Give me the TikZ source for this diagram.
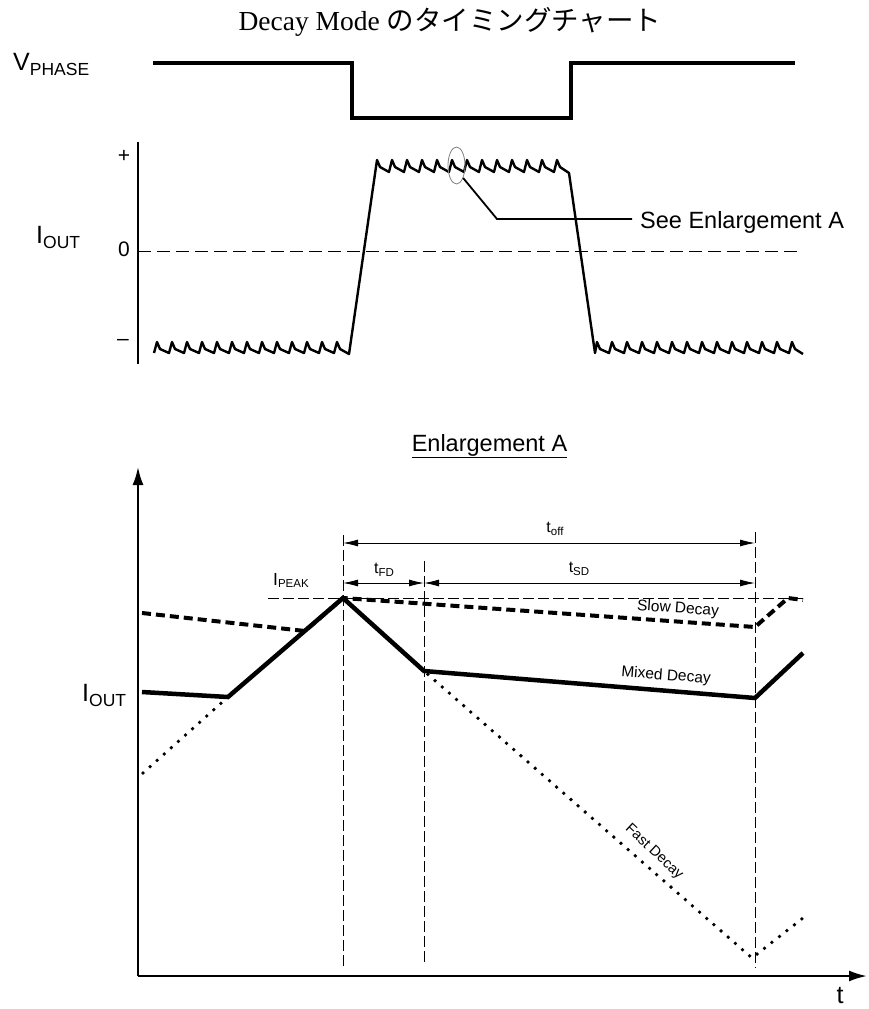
\documentclass[tikz,border=0pt]{standalone}
\usepackage{fontspec}
\setmainfont{Liberation Serif}
\setsansfont{Liberation Sans}
\newfontfamily\jpfont{Noto Sans CJK JP}
\usetikzlibrary{arrows.meta,shapes.geometric}
\newcommand{\fsz}[1]{\fontsize{#1}{#1}\selectfont}
\begin{document}
\begin{tikzpicture}[x=1pt,y=-1pt,
  lbl/.style={font=\sffamily, inner sep=0pt},
  wave/.style={line width=2.4pt, line join=round},
  thinaxis/.style={line width=1.3pt},
  zeroline/.style={line width=0.9pt, dash pattern=on 13pt off 6pt},
  guide/.style={line width=0.9pt, dash pattern=on 11pt off 4pt},
  dimarrow/.style={line width=0.9pt, {Latex[length=15pt,width=7pt]}-{Latex[length=15pt,width=7pt]}},
  bigaxis/.style={line width=2.2pt, -{Latex[length=18pt,width=11pt]}},
  mixed/.style={line width=4.5pt, line join=miter},
  slow/.style={line width=4pt, dash pattern=on 9pt off 5pt},
  fast/.style={line width=3.8pt, line cap=round, dash pattern=on 0pt off 9.5pt}]
\useasboundingbox (0,0) rectangle (868,1009);

% title
\node[inner sep=0pt, anchor=base] (title) at (450,30) {\fsz{27.5}Decay Mode {\jpfont のタイミングチャート}};

% V_PHASE
\node[lbl, anchor=base west] (vphase) at (13,70) {\fsz{25}V\raisebox{-5pt}{\fsz{17.5}PHASE}};
\draw[line width=3.3pt, line join=miter] (153,63) -- (352,63) -- (352,118) -- (571,118) -- (571,63) -- (795,63);

% I_OUT upper chart
\node[lbl, anchor=base west] (iout1) at (36,243) {\fsz{25}I\raisebox{-5pt}{\fsz{17.5}OUT}};
\node[lbl] (plus) at (124,156) {\fsz{21}+};
\node[lbl] (zero) at (124,249) {\fsz{21}0};
\node[lbl] (minus) at (123,342) {\fsz{21}–};
\coordinate (ax1top) at (138,142);
\coordinate (ax1bot) at (138,364);
\draw[thinaxis] (ax1top) -- (ax1bot);
\coordinate (z0) at (138,251);
\coordinate (z1) at (798,251);
\draw[zeroline] (z0) -- (z1);

% current waveform
\draw[wave] (154,353)
  foreach \i in {0,...,11} { -- ({157+15*\i},342) -- ({160+15*\i},349) -- ({169+15*\i},353) }
  -- (337,342) -- (340,349) -- (349,354) -- (377,160)
  foreach \i in {0,...,11} { -- ({380+15*\i},167) -- ({389+15*\i},172) -- ({392+15*\i},160) }
  -- (560,167) -- (569,173) -- (595,353)
  foreach \i in {0,...,12} { -- ({597+15*\i},342) -- ({600+15*\i},349) -- ({609+15*\i},353) }
  -- (792,342) -- (795,349) -- (803,354);

% enlargement marker
\node[draw=gray, line width=0.8pt, ellipse, minimum width=17pt, minimum height=37pt, inner sep=0pt] (ell) at (456.5,165.5) {};
\node[lbl, anchor=base west] (see) at (640,228) {\fsz{23.5}See Enlargement A};
\coordinate (bend) at (497,219);
\coordinate (leadend) at (632,219);
\draw[line width=1.8pt] (ell.-62) -- (bend) -- (leadend);

% Enlargement A
\node[lbl, anchor=base] (enl) at (489.5,451) {\fsz{23.5}\underline{Enlargement A}};

\coordinate (org) at (138,976);
\coordinate (ytip) at (138,467);
\coordinate (xtip) at (867,976);
\draw[bigaxis] (org) -- (ytip);
\draw[bigaxis] (org) -- (xtip);
\node[lbl, anchor=base west] (iout2) at (82,701) {\fsz{25}I\raisebox{-5pt}{\fsz{17.5}OUT}};
\node[lbl, anchor=base] (tlab) at (840,1003) {\fsz{25}t};

% guides
\coordinate (g1a) at (343,535); \coordinate (g1b) at (343,968);
\coordinate (g2a) at (424,561); \coordinate (g2b) at (424,965);
\coordinate (g3a) at (755,532); \coordinate (g3b) at (755,968);
\draw[guide] (g1a) -- (g1b);
\draw[guide] (g2a) -- (g2b);
\draw[guide] (g3a) -- (g3b);
\coordinate (pkl) at (268,598); \coordinate (pkr) at (803,598);
\draw[guide] (pkl) -- (pkr);

% dimension arrows
\coordinate (toffa) at (343,543); \coordinate (toffb) at (755,543);
\draw[dimarrow] (toffa) -- (toffb);
\coordinate (tfda) at (343,583); \coordinate (tfdb) at (424,583);
\draw[dimarrow] (tfda) -- (tfdb);
\coordinate (tsda) at (424,583); \coordinate (tsdb) at (755,583);
\draw[dimarrow] (tsda) -- (tsdb);
\node[lbl, anchor=base] (toff) at (555,532) {\fsz{16}t\raisebox{-3pt}{\fsz{11.5}off}};
\node[lbl, anchor=base] (tsd) at (579,572) {\fsz{16}t\raisebox{-3pt}{\fsz{11.5}SD}};
\node[lbl, anchor=base] (tfd) at (384,573) {\fsz{16}t\raisebox{-3pt}{\fsz{11.5}FD}};
\node[lbl, anchor=base west] (ipeak) at (273,585) {\fsz{17.5}I\raisebox{-2.5pt}{\fsz{11.5}PEAK}};

% key points
\coordinate (pk) at (343,598);
\coordinate (knee) at (424,671);
\coordinate (valley) at (228,697);

% fast decay (dotted)
\draw[fast] (143,773) -- (valley) -- (pk) -- (knee) -- (752,958) -- (803,918);
% slow decay (dashed)
\draw[slow] (142,613) -- (305,631) -- (pk) -- (755,627) -- (788,598) -- (803,600);
% mixed decay (solid)
\draw[mixed] (142,692) -- (valley) -- (pk) -- (knee) -- (755,698) -- (803,653);

\node[lbl, rotate=-4] (slowlab) at (678,609) {\fsz{15.5}Slow Decay};
\node[lbl, rotate=-4.5] (mixlab) at (666,676) {\fsz{15.5}Mixed Decay};
\node[lbl, rotate=-43] (fastlab) at (654,852) {\fsz{14.5}Fast Decay};
\end{tikzpicture}
\end{document}
